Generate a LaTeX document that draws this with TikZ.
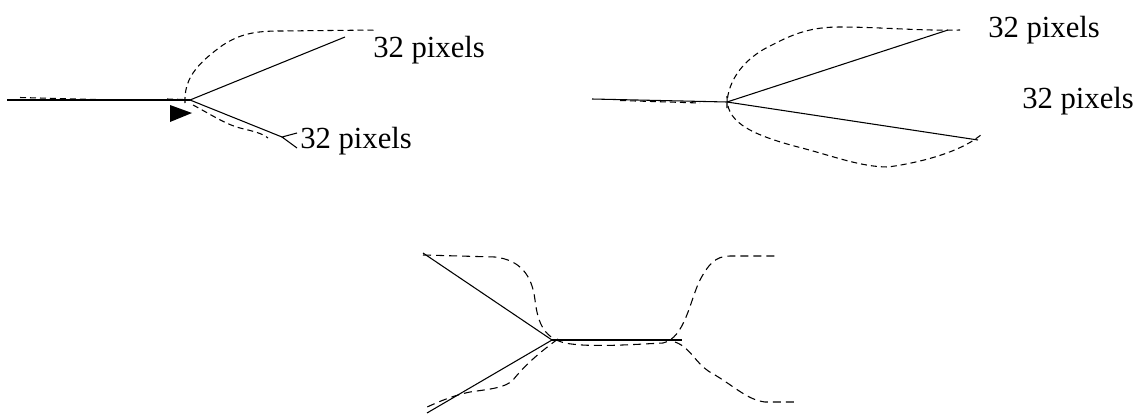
\documentclass[tikz,border=0pt]{standalone}
\usepackage{fontspec}
\setmainfont{Liberation Serif}
\begin{document}
\begin{tikzpicture}[x=0.75pt,y=-0.75pt,
  solidln/.style={line width=0.8pt,black},
  dashln/.style={line width=0.8pt,black,dash pattern=on 4.5pt off 3pt},
  dashbig/.style={line width=0.8pt,black,dash pattern=on 6pt off 3.8pt},
  lbl/.style={font=\fontsize{23}{26}\selectfont,anchor=base west,inner sep=0pt}]
\useasboundingbox (0,0) rectangle (1142,414);
% ---------- panel 1 ----------
\coordinate (a0) at (7,100);
\coordinate (aj) at (190,100);
\coordinate (au) at (345,37);
\coordinate (al) at (282,137);
\coordinate (alu) at (297,133);
\coordinate (all) at (297,148);
\draw[solidln] (a0) -- (aj);
\draw[solidln] (aj) -- (au);
\draw[solidln] (aj) -- (al);
\draw[solidln] (alu) -- (al) -- (all);
\fill[black] (170,105) -- (170,122) -- (192,113) -- cycle;
\draw[dashln] (20,97.5) -- (97,99.5);
\draw[dashln] (167,99) -- (186,99.5);
\draw[dashln] (185,103) .. controls (184,80) and (195,65) .. (223,45)
  .. controls (240,34) and (255,31) .. (280,31) -- (377,30);
\draw[dashln] (193,105) .. controls (210,114) and (225,124) .. (240,128)
  .. controls (252,131) and (262,133) .. (268,138);
\node[lbl] (t1) at (373,57) {32 pixels};
\node[lbl] (t2) at (300,148) {32 pixels};
% ---------- panel 2 ----------
\coordinate (b0) at (592,99);
\coordinate (bj) at (727,102);
\coordinate (bu) at (948,30);
\coordinate (bl) at (978,140);
\draw[solidln] (b0) -- (bj);
\draw[solidln] (bj) -- (bu);
\draw[solidln] (bj) -- (bl);
\draw[dashln] (620,100.5) -- (700,103);
\draw[dashln] (727,108) .. controls (726,85) and (740,60) .. (772,45)
  .. controls (795,33) and (812,27) .. (840,27)
  .. controls (880,27) and (920,31) .. (960,30);
\draw[dashln] (727,96) .. controls (726,120) and (745,133) .. (798,147)
  .. controls (830,155) and (860,167) .. (888,167)
  .. controls (925,162) and (965,150) .. (983,133);
\node[lbl] (t3) at (988,37) {32 pixels};
\node[lbl] (t4) at (1022,108) {32 pixels};
% ---------- panel 3 ----------
\coordinate (cj) at (552,340);
\coordinate (cu) at (423,253);
\coordinate (cl) at (427,413);
\coordinate (cr) at (682,340);
\draw[solidln] (cu) -- (cj);
\draw[solidln] (cj) -- (cl);
\draw[solidln] (cj) -- (cr);
\draw[dashbig] (423,255) -- (495,257)
  .. controls (520,260) and (532,275) .. (535,300)
  .. controls (538,325) and (545,338) .. (565,343)
  .. controls (590,348) and (640,344) .. (663,343)
  .. controls (685,338) and (690,300) .. (700,280)
  .. controls (708,265) and (715,256) .. (730,256) -- (777,256);
\draw[dashbig] (675,342) .. controls (692,348) and (695,365) .. (715,375)
  .. controls (735,387) and (748,400) .. (765,402) -- (797,402);
\draw[dashbig] (558,339) .. controls (540,352) and (525,365) .. (513,380)
  .. controls (505,388) and (490,389) .. (470,392)
  .. controls (455,395) and (440,401) .. (425,408);
\end{tikzpicture}
\end{document}
